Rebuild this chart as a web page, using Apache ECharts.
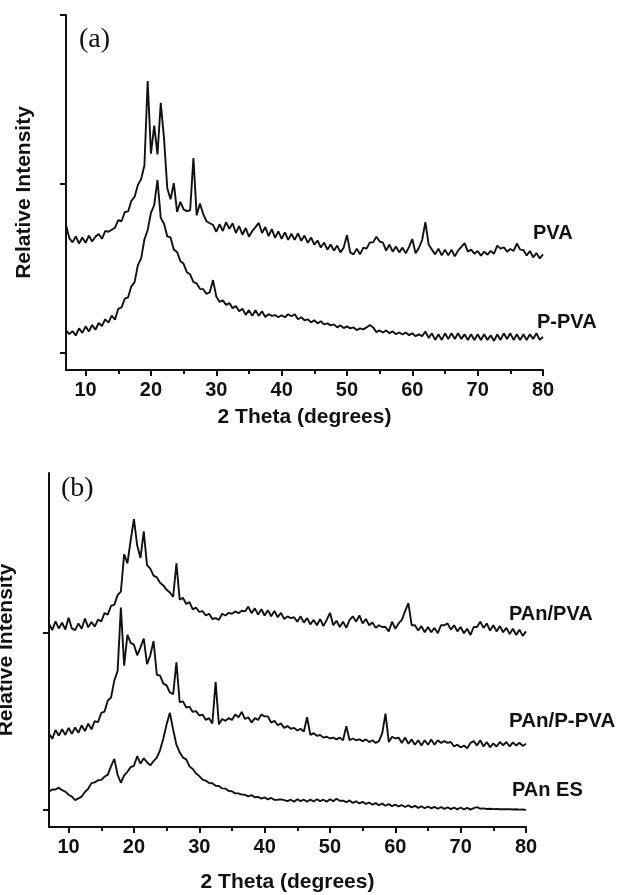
<!DOCTYPE html>
<html>
<head>
<meta charset="utf-8">
<script src="https://cdn.jsdelivr.net/npm/echarts@6/dist/echarts.min.js"></script>
<style>
html,body{margin:0;padding:0;background:#fff;}
#chart{width:618px;height:895px;}
</style>
</head>
<body>
<div id="chart"></div>
<script>
// 2-theta sampling grid (degrees)
const twoTheta = [
  7,7.5,8,8.5,9,9.5,10,10.5,11,11.5,
  12,12.5,13,13.5,14,14.5,15,15.5,16,16.5,
  17,17.5,18,18.5,19,19.5,20,20.5,21,21.5,
  22,22.5,23,23.5,24,24.5,25,25.5,26,26.5,
  27,27.5,28,28.5,29,29.5,30,30.5,31,31.5,
  32,32.5,33,33.5,34,34.5,35,35.5,36,36.5,
  37,37.5,38,38.5,39,39.5,40,40.5,41,41.5,
  42,42.5,43,43.5,44,44.5,45,45.5,46,46.5,
  47,47.5,48,48.5,49,49.5,50,50.5,51,51.5,
  52,52.5,53,53.5,54,54.5,55,55.5,56,56.5,
  57,57.5,58,58.5,59,59.5,60,60.5,61,61.5,
  62,62.5,63,63.5,64,64.5,65,65.5,66,66.5,
  67,67.5,68,68.5,69,69.5,70,70.5,71,71.5,
  72,72.5,73,73.5,74,74.5,75,75.5,76,76.5,
  77,77.5,78,78.5,79,79.5,80
];

// Panel (a) relative intensity (offset, a.u.)
const pva = [
  760,680,655,690,648,684,652,695,660,688,
  705,676,722,718,730,742,786,780,835,838,
  900,925,995,1030,1110,1610,1180,1345,1175,1480,
  1270,975,910,1005,835,895,850,840,845,1154,
  815,885,822,780,768,758,718,762,722,775,
  735,768,710,752,700,740,688,722,745,770,
  710,746,692,733,682,720,676,714,670,706,
  670,708,664,695,652,684,642,666,624,654,
  612,642,606,636,596,624,698,596,584,618,
  584,624,618,655,655,688,660,654,606,642,
  600,630,596,624,590,628,675,590,622,669,
  775,642,612,584,618,578,612,578,612,572,
  606,628,651,600,612,588,604,576,600,582,
  604,588,636,618,626,600,616,604,648,612,
  610,578,604,566,592,560,584
];
const pPva = [
  135,112,130,104,146,120,158,128,166,138,
  178,160,200,180,222,198,262,270,322,330,
  395,420,520,560,672,728,830,875,1024,800,
  765,690,684,612,598,545,528,478,466,420,
  412,380,378,350,360,432,335,303,312,285,
  296,266,278,248,262,226,254,220,254,220,
  248,214,230,220,225,212,224,212,230,218,
  230,200,212,194,200,182,194,176,188,170,
  176,164,170,152,164,148,158,146,152,136,
  146,140,152,166,152,124,134,122,134,118,
  128,112,122,110,122,106,117,100,111,100,
  128,90,117,78,111,78,117,84,117,84,
  117,84,111,78,111,78,111,78,111,78,
  105,72,111,78,117,84,117,78,111,78,
  111,78,111,84,117,78,95
];

// Panel (b) relative intensity (offset, a.u.)
const panPva = [
  1048,1012,1062,1022,1054,1016,1082,1022,1012,1050,
  1020,1078,1028,1058,1032,1072,1062,1108,1100,1150,
  1155,1210,1230,1440,1390,1520,1640,1490,1420,1570,
  1380,1360,1320,1310,1280,1265,1240,1225,1200,1390,
  1185,1195,1160,1170,1130,1140,1115,1120,1095,1105,
  1075,1080,1070,1105,1095,1110,1105,1118,1108,1122,
  1118,1145,1108,1135,1100,1130,1095,1125,1090,1120,
  1085,1110,1075,1090,1080,1085,1060,1090,1055,1080,
  1045,1070,1040,1075,1035,1070,1110,1040,1065,1030,
  1060,1025,1070,1090,1060,1095,1050,1075,1040,1055,
  1025,1040,1030,1030,1005,1060,1020,1050,1070,1120,
  1165,1040,1040,1010,1035,1000,1030,1000,1025,995,
  1040,1040,1050,1015,1040,1005,1030,995,1020,985,
  1030,1030,1060,1025,1050,1010,1040,1005,1035,1000,
  1025,990,1020,985,1015,980,1005
];
const panPPva = [
  428,398,448,416,452,420,460,426,462,432,
  474,442,484,452,498,492,545,552,615,632,
  728,782,1140,812,985,940,930,870,915,965,
  820,870,950,760,755,710,700,660,650,830,
  605,610,575,580,550,555,530,535,505,515,
  485,720,480,510,500,515,505,535,520,550,
  510,520,490,515,505,535,525,525,490,500,
  475,485,460,470,455,460,445,455,440,520,
  420,430,415,420,405,410,400,405,395,405,
  390,470,390,400,390,395,385,395,380,390,
  375,385,430,540,380,410,400,405,375,405,
  370,395,365,390,360,390,365,395,365,390,
  375,385,375,380,355,365,350,360,345,375,
  385,360,390,355,380,350,372,355,380,362,
  380,355,378,360,376,358,370
];
const panEs = [
  100,112,112,122,108,100,82,72,52,62,
  72,98,116,148,152,164,166,184,196,244,
  285,195,150,192,212,238,246,300,258,288,
  266,248,272,292,335,400,480,545,450,365,
  322,292,282,242,228,202,188,168,162,148,
  147,133,132,118,117,103,102,90,90,83,
  82,73,80,68,70,60,67,56,64,53,
  54,56,52,46,54,43,57,46,54,43,
  55,44,57,46,54,43,57,46,60,48,
  49,40,50,36,45,33,42,30,38,26,
  35,23,32,20,29,18,26,16,24,13,
  22,11,19,8,17,6,16,5,14,3,
  12,2,11,1,10,0,10,-1,8,-2,
  7,12,4,5,2,3,1,2,0,1,
  0,1,-1,0,-2,-1,-3
];

const xMajorTicks = [10,20,30,40,50,60,70,80];
const xMinorTicks = [15,25,35,45,55,65,75];
const yTicksA = [0,1000,2000];
const yTicksB = [0,1000];
const panelLabels = ['(a)','(b)'];
const curveNamesA = ['PVA','P-PVA'];
const curveNamesB = ['PAn/PVA','PAn/P-PVA','PAn ES'];
const xTitle = '2 Theta (degrees)';
const yTitle = 'Relative Intensity';

const INK = '#111';
const SANS = '"Liberation Sans", Arial, sans-serif';
const SERIF = '"Liberation Serif", "Times New Roman", serif';

function pairs(ys){ return twoTheta.map((x,i)=>[x, ys[i]]); }

function mainX(gridIndex, nameGap){
  return {
    type:'value', gridIndex, min:7, max:80, position:'bottom',
    name:xTitle, nameLocation:'middle', nameGap,
    nameTextStyle:{fontFamily:SANS, fontWeight:'bold', fontSize:21, color:INK},
    axisLine:{show:true, onZero:false, lineStyle:{color:INK, width:2}},
    axisTick:{show:true, inside:false, length:6, customValues:xMajorTicks.slice(), lineStyle:{color:INK, width:2}},
    axisLabel:{show:true, margin:10, customValues:xMajorTicks.slice(), fontFamily:SANS, fontWeight:'bold', fontSize:20, color:INK},
    splitLine:{show:false}
  };
}
// minor-tick-only axis, moved onto the bottom edge of the plot
function minorX(gridIndex, shift){
  return {
    type:'value', gridIndex, min:7, max:80, position:'top', offset:shift,
    axisLine:{show:false, onZero:false},
    axisTick:{show:true, inside:true, length:4, customValues:xMinorTicks.slice(), lineStyle:{color:INK, width:2}},
    axisLabel:{show:false},
    splitLine:{show:false}
  };
}
function mainY(gridIndex, min, max, ticks, nameGap){
  return {
    type:'value', gridIndex, min, max, position:'left',
    name:yTitle, nameLocation:'middle', nameGap,
    nameTextStyle:{fontFamily:SANS, fontWeight:'bold', fontSize:21, color:INK},
    axisLine:{show:true, onZero:false, lineStyle:{color:INK, width:2}},
    axisTick:{show:true, inside:false, length:6, customValues:ticks.slice(), lineStyle:{color:INK, width:2}},
    axisLabel:{show:false},
    splitLine:{show:false}
  };
}
function line(name, xi, yi, ys){
  return {
    name, type:'line', xAxisIndex:xi, yAxisIndex:yi, data:pairs(ys),
    showSymbol:false, symbol:'none', smooth:false,
    lineStyle:{color:INK, width:1.9}, silent:true
  };
}
function txt(text, x, y, font){
  return {type:'text', x, y, silent:true,
    style:{text, font, fill:INK, align:'left', verticalAlign:'middle', textAlign:'left', textVerticalAlign:'middle'}};
}

const chart = echarts.init(document.getElementById('chart'), null, {renderer:'canvas'});
chart.setOption({
  backgroundColor:'#fff',
  animation:false,
  grid:[
    {left:66, top:15, width:477, height:355, outerBoundsMode:'none', containLabel:false},
    {left:49, top:473, width:477, height:354, outerBoundsMode:'none', containLabel:false}
  ],
  xAxis:[
    mainX(0, 37), minorX(0, -355),
    mainX(1, 45), minorX(1, -354)
  ],
  yAxis:[mainY(0, -100, 2000, yTicksA, 31), mainY(1, -100, 1900, yTicksB, 32)],
  series:[
    line(curveNamesA[0], 0, 0, pva),
    line(curveNamesA[1], 0, 0, pPva),
    line(curveNamesB[0], 2, 1, panPva),
    line(curveNamesB[1], 2, 1, panPPva),
    line(curveNamesB[2], 2, 1, panEs)
  ],
  graphic:[
    txt(panelLabels[0], 79, 40, '28px ' + SERIF),
    txt(panelLabels[1], 61, 489, '28px ' + SERIF),
    txt(curveNamesA[0], 533, 233, 'bold 20px ' + SANS),
    txt(curveNamesA[1], 537, 322, 'bold 20px ' + SANS),
    txt(curveNamesB[0], 509, 614, 'bold 20px ' + SANS),
    txt(curveNamesB[1], 509, 721, 'bold 20.5px ' + SANS),
    txt(curveNamesB[2], 512, 790, 'bold 20px ' + SANS)
  ]
});
</script>
</body>
</html>
